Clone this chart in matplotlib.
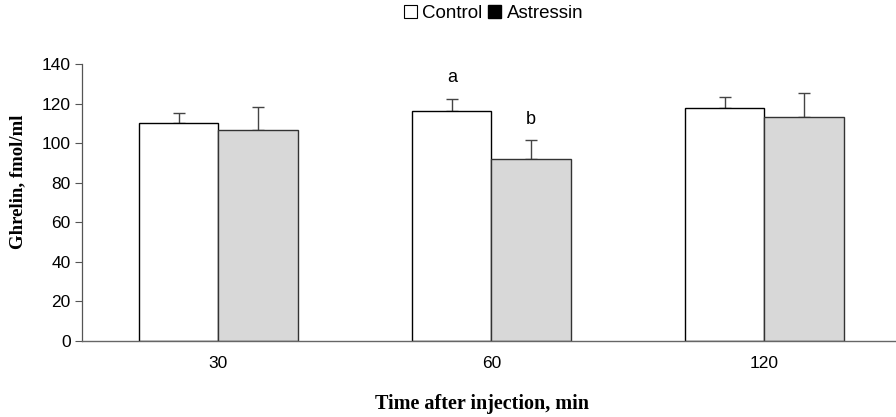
import numpy as np
import matplotlib.pyplot as plt
from matplotlib.patches import Patch

times = ["30", "60", "120"]
control = [110.0, 116.2, 117.8]
control_err = [5.4, 6.3, 5.3]
astressin = [106.8, 92.1, 113.2]
astressin_err = [11.6, 9.3, 12.0]
letters_control = ["", "a", ""]
letters_astressin = ["", "b", ""]

fig = plt.figure(figsize=(8.96, 4.17), dpi=100)
ax = fig.add_axes([0.0915, 0.1823, 0.914, 0.6642])

x = np.arange(len(times))
w = 0.29
ax.bar(x - w / 2, control, w, color="white", edgecolor="black", linewidth=1.0, zorder=2)
ax.bar(x + w / 2, astressin, w, color="#d8d8d8", edgecolor="#333333", linewidth=1.0, zorder=2)
ax.errorbar(x - w / 2, control, yerr=[np.zeros(3), control_err], fmt="none",
            ecolor="#444444", elinewidth=1.0, capsize=4, capthick=1.0, zorder=1)
ax.errorbar(x + w / 2, astressin, yerr=[np.zeros(3), astressin_err], fmt="none",
            ecolor="#444444", elinewidth=1.0, capsize=4, capthick=1.0, zorder=1)

for i in range(len(times)):
    if letters_control[i]:
        ax.text(x[i] - w / 2, control[i] + control_err[i] + 10.5, letters_control[i],
                ha="center", va="center", fontsize=13, family="Liberation Sans")
    if letters_astressin[i]:
        ax.text(x[i] + w / 2, astressin[i] + astressin_err[i] + 10.5, letters_astressin[i],
                ha="center", va="center", fontsize=13, family="Liberation Sans")

ax.set_xlim(-0.5, 2.5)
ax.set_ylim(0, 140)
ax.set_yticks(range(0, 141, 20))
ax.set_xticks(x)
ax.set_xticklabels(times)
for lab in ax.get_xticklabels() + ax.get_yticklabels():
    lab.set_family("Liberation Sans")
    lab.set_fontsize(12.5)
ax.tick_params(axis="x", length=0, pad=11)
ax.tick_params(axis="y", length=5, width=0.8, color="#555555", pad=3)

for s in ["top", "right"]:
    ax.spines[s].set_visible(False)
ax.spines["left"].set_color("#555555")
ax.spines["bottom"].set_color("#666666")
ax.spines["left"].set_linewidth(0.9)
ax.spines["bottom"].set_linewidth(1.0)

ax.set_ylabel("Ghrelin, fmol/ml", family="Liberation Serif", fontweight="bold",
              fontsize=13.5)
ax.set_xlabel("Time after injection, min", family="Liberation Serif", fontweight="bold",
              fontsize=14.5)
ax.yaxis.set_label_coords(-0.068, 0.575)
ax.xaxis.set_label_coords(0.489, -0.19)

handles = [Patch(facecolor="white", edgecolor="black", linewidth=0.8),
           Patch(facecolor="black", edgecolor="black")]
fig.legend(handles, ["Control", "Astressin"], loc="center", bbox_to_anchor=(0.551, 0.968),
           ncol=2, frameon=False, handlelength=0.7, handleheight=0.7, handletextpad=0.3,
           columnspacing=0.3, borderpad=0, prop={"family": "Liberation Sans", "size": 13.5})

fig.savefig("out.png", dpi=100)
